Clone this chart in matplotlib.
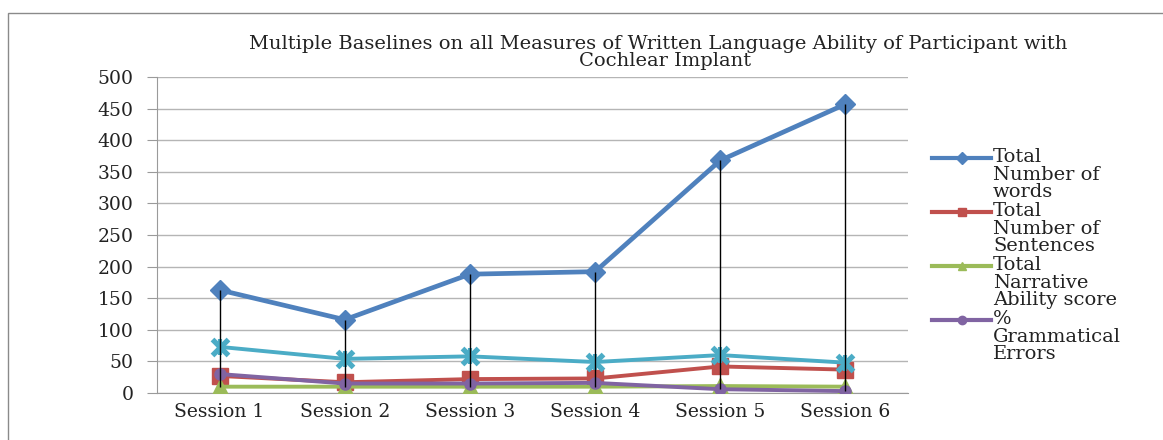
import numpy as np
import matplotlib
matplotlib.use('Agg')
import matplotlib.pyplot as plt
from matplotlib.lines import Line2D
from matplotlib.patches import Rectangle

# data
sessions = ['Session 1', 'Session 2', 'Session 3', 'Session 4', 'Session 5', 'Session 6']
total_words = [163, 116, 188, 192, 368, 457]
total_sentences = [27, 17, 22, 23, 42, 37]
narrative_score = [10, 10, 10, 10, 11, 10]
grammatical_errors = [30, 15, 15, 16, 6, 3]
extra_series = [73, 54, 58, 49, 60, 48]

legend_labels = ['Total\nNumber of\nwords', 'Total\nNumber of\nSentences',
                 'Total\nNarrative\nAbility score', '%\nGrammatical\nErrors']

blue = '#4F81BD'
red = '#C0504D'
green = '#9BBB59'
purple = '#8064A2'
cyan = '#4BACC6'

plt.rcParams['font.family'] = ['DejaVu Serif']
txt = '#222222'

W, H = 1163, 440
fig = plt.figure(figsize=(W / 100, H / 100), dpi=100)
ax = fig.add_axes([157 / W, 1 - 393 / H, (908 - 157) / W, (393 - 77) / H])

x = np.arange(len(sessions))
all_series = np.array([total_words, total_sentences, narrative_score,
                       grammatical_errors, extra_series])

ax.plot(x, total_words, color=blue, lw=3.4, marker='D', ms=10, zorder=3)
ax.plot(x, total_sentences, color=red, lw=2.8, marker='s', ms=12, zorder=3)
ax.plot(x, narrative_score, color=green, lw=2.8, marker='^', ms=12, zorder=3)
ax.plot(x, grammatical_errors, color=purple, lw=2.8, marker='o', ms=8, zorder=3)
ax.plot(x, extra_series, color=cyan, lw=2.8, marker='x', ms=12, mew=3.8, zorder=3)
ax.plot(x, extra_series, color=cyan, lw=0, marker='|', ms=12, mew=3, zorder=3)

# high-low lines
ax.vlines(x, all_series.min(axis=0), all_series.max(axis=0), color='black', lw=1, zorder=4)

ax.set_xlim(-0.5, len(sessions) - 0.5)
ax.set_ylim(0, 500)
ax.set_yticks(np.arange(0, 501, 50))
ax.set_xticks(x)
ax.set_xticklabels(sessions, fontsize=13.5, color=txt)
ax.tick_params(axis='x', length=0, pad=7)
ax.tick_params(axis='y', length=7, color='#9a9a9a', labelsize=13.5, labelcolor=txt, pad=10)
ax.grid(axis='y', color='#b5b5b5', lw=1)
ax.set_axisbelow(True)
for s in ['top', 'right']:
    ax.spines[s].set_visible(False)
ax.spines['left'].set_color('#9a9a9a')
ax.spines['bottom'].set_color('#9a9a9a')

fig.text(658 / W, 1 - 44 / H,
         'Multiple Baselines on all Measures of Written Language Ability of Participant with',
         ha='center', va='center', fontsize=14, color=txt)
fig.text(665 / W, 1 - 61 / H, 'Cochlear Implant', ha='center', va='center',
         fontsize=14, color=txt)

# legend drawn by hand so the handle lines up with the first text line
colors = [blue, red, green, purple]
markers = ['D', 's', '^', 'o']
y0 = 158
for i, (lab, c, m) in enumerate(zip(legend_labels, colors, markers)):
    yy = 1 - (y0 + i * 54) / H
    fig.add_artist(Line2D([932 / W, 991 / W], [yy, yy], color=c, lw=3,
                          transform=fig.transFigure))
    fig.add_artist(Line2D([961.5 / W], [yy], color=c, marker=m, ms=6,
                          transform=fig.transFigure))
    fig.text(993 / W, yy + 10 / H, lab, ha='left', va='top', fontsize=14,
             linespacing=0.97, color=txt, transform=fig.transFigure)

fig.add_artist(Rectangle((8 / W, -0.1), 1.2, 1.1 - 13 / H, transform=fig.transFigure,
                         fill=False, edgecolor='#8a8a8a', lw=1))

fig.savefig('out.png', dpi=100)
